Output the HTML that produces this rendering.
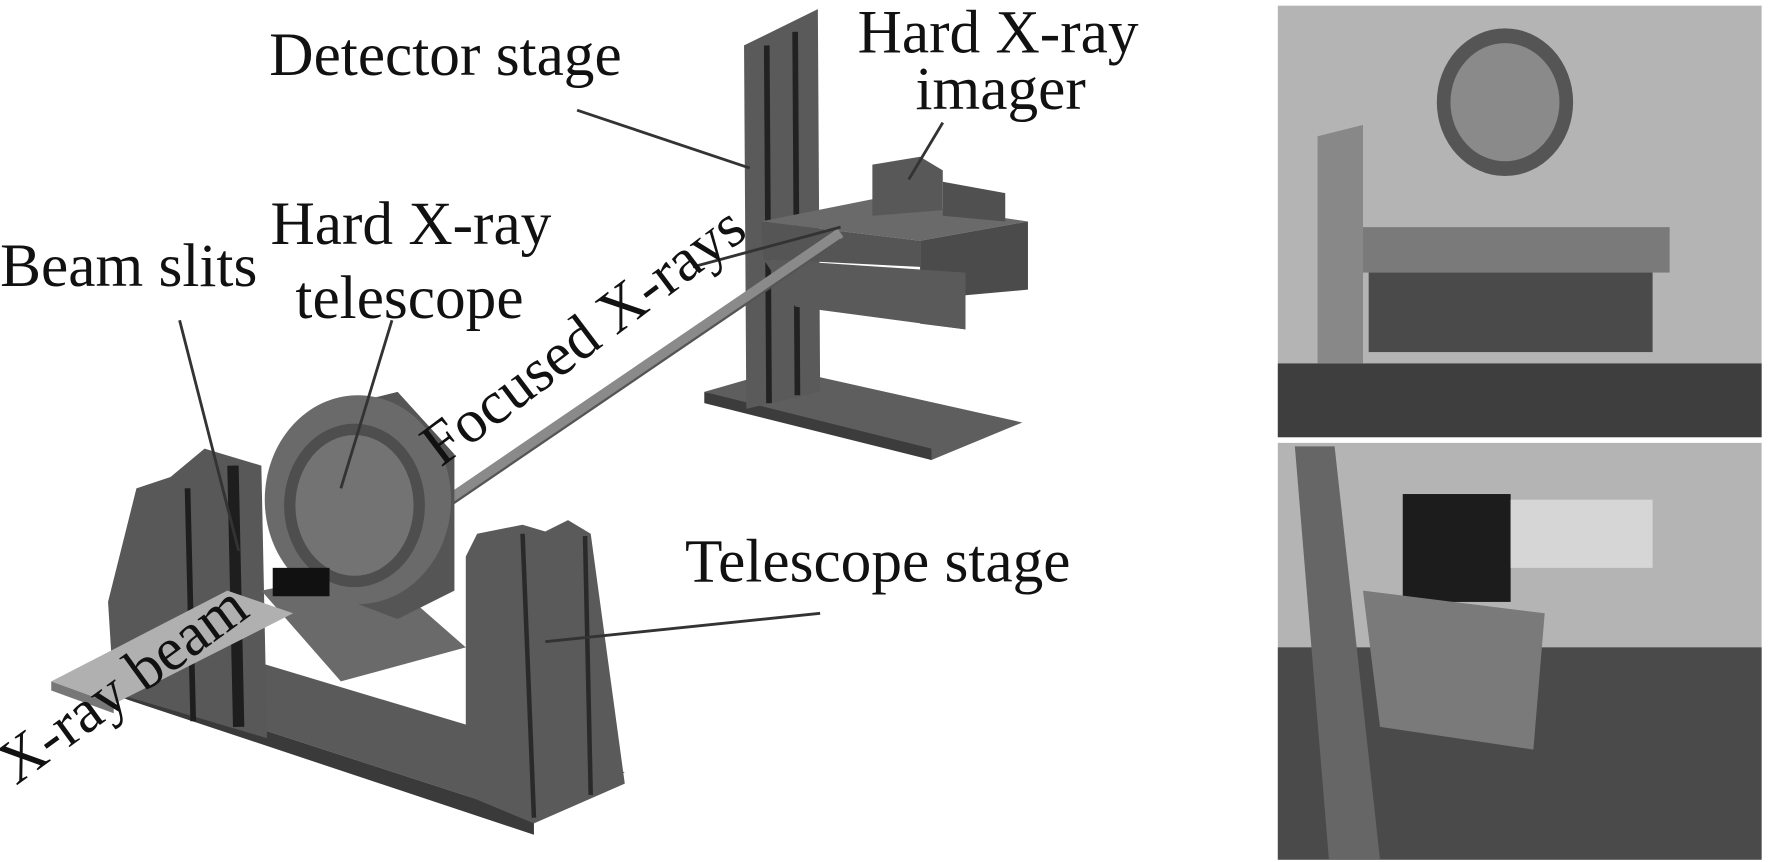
<!DOCTYPE html>
<html><head><style>html,body{margin:0;padding:0;background:#fff}svg{display:block}</style></head>
<body>
<svg width="1772" height="862" viewBox="0 0 1560 759" xmlns="http://www.w3.org/2000/svg" font-family="Liberation Serif, serif" font-size="54">
<rect width="1560" height="759" fill="#fff"/>
<!-- Detector stage -->
<polygon points="620,345 690,325 900,372 820,405" fill="#5e5e5e"/>
<polygon points="620,345 820,395 820,405 620,355" fill="#3c3c3c"/>
<polygon points="655,40 720,8 722,345 657,360" fill="#5a5a5a"/>
<line x1="675" y1="40" x2="677" y2="355" stroke="#222" stroke-width="5"/>
<line x1="700" y1="28" x2="702" y2="348" stroke="#222" stroke-width="5"/>
<!-- imager platform -->
<polygon points="670,195 770,175 905,195 810,212" fill="#6a6a6a"/>
<polygon points="670,195 810,212 810,235 672,228" fill="#555"/>
<polygon points="810,212 905,195 905,255 850,260 850,290 810,285" fill="#4b4b4b"/>
<polygon points="672,228 850,240 850,290 700,270" fill="#5a5a5a"/>
<polygon points="768,145 810,138 830,150 830,185 768,190" fill="#585858"/>
<polygon points="830,160 885,170 885,195 830,190" fill="#505050"/>
<!-- beam rod -->
<line x1="395" y1="440" x2="740" y2="205" stroke="#8a8a8a" stroke-width="9"/>
<line x1="395" y1="446" x2="740" y2="211" stroke="#555" stroke-width="2"/>
<!-- telescope stage base -->
<polygon points="100,600 200,575 550,680 470,720" fill="#5a5a5a"/>
<polygon points="100,600 470,720 470,735 100,612" fill="#3a3a3a"/>
<!-- left upright -->
<polygon points="95,530 120,430 150,420 180,395 230,410 235,650 100,610" fill="#585858"/>
<line x1="205" y1="410" x2="210" y2="640" stroke="#1e1e1e" stroke-width="10"/>
<line x1="165" y1="430" x2="170" y2="635" stroke="#1e1e1e" stroke-width="5"/>
<!-- inner plate -->
<polygon points="230,520 330,500 410,570 300,600" fill="#6a6a6a"/>
<!-- ring -->
<polygon points="310,355 350,345 400,400 400,520 350,545 310,530" fill="#555"/>
<ellipse cx="315" cy="440" rx="82" ry="92" fill="#6a6a6a"/>
<ellipse cx="312" cy="445" rx="62" ry="72" fill="#4e4e4e"/>
<ellipse cx="312" cy="445" rx="52" ry="62" fill="#737373"/>
<rect x="240" y="500" width="50" height="25" fill="#111"/>
<!-- right upright -->
<polygon points="410,490 420,470 460,462 480,468 500,458 520,470 550,690 470,725 410,700" fill="#5a5a5a"/>
<line x1="460" y1="470" x2="470" y2="720" stroke="#2a2a2a" stroke-width="4"/>
<line x1="515" y1="472" x2="520" y2="700" stroke="#2a2a2a" stroke-width="4"/>
<!-- x-ray beam plate -->
<polygon points="45,600 200,520 258,540 100,620" fill="#b0b0b0"/>
<polygon points="45,600 100,620 100,628 45,608" fill="#777"/>
<!-- leader lines -->
<g stroke="#333" stroke-width="2.5">
<line x1="508" y1="97" x2="660" y2="148"/>
<line x1="830" y1="108" x2="800" y2="158"/>
<line x1="158" y1="282" x2="210" y2="485"/>
<line x1="345" y1="282" x2="300" y2="430"/>
<line x1="722" y1="540" x2="480" y2="565"/>
<line x1="740" y1="200" x2="610" y2="235"/>
</g>
<!-- labels -->
<g fill="#111">
<text x="237" y="66">Detector stage</text>
<text x="755" y="46">Hard X-ray</text>
<text x="806" y="96">imager</text>
<text x="238" y="215">Hard X-ray</text>
<text x="260" y="280">telescope</text>
<text x="0" y="252">Beam slits</text>
<text x="603" y="512">Telescope stage</text>
<text transform="translate(388,412) rotate(-37)">Focused X-rays</text>
<text transform="translate(14,692) rotate(-36)">X-ray beam</text>
</g>
<!-- photos -->
<rect x="1125" y="5" width="426" height="380" fill="#b4b4b4"/>
<rect x="1125" y="320" width="426" height="65" fill="#3e3e3e"/>
<ellipse cx="1325" cy="90" rx="60" ry="65" fill="#555"/>
<ellipse cx="1325" cy="90" rx="48" ry="52" fill="#8a8a8a"/>
<polygon points="1160,120 1200,110 1200,320 1160,320" fill="#888"/>
<rect x="1200" y="200" width="270" height="40" fill="#7a7a7a"/>
<rect x="1205" y="240" width="250" height="70" fill="#4a4a4a"/>
<polygon points="1125,390 1551,390 1551,757 1125,757" fill="#b4b4b4"/>
<rect x="1125" y="570" width="426" height="187" fill="#4a4a4a"/>
<polygon points="1140,393 1175,393 1215,757 1170,757" fill="#666"/>
<rect x="1235" y="435" width="95" height="95" fill="#1c1c1c"/>
<polygon points="1200,520 1360,540 1350,660 1215,640" fill="#7a7a7a"/>
<rect x="1330" y="440" width="125" height="60" fill="#d6d6d6"/>
</svg>
</body></html>
